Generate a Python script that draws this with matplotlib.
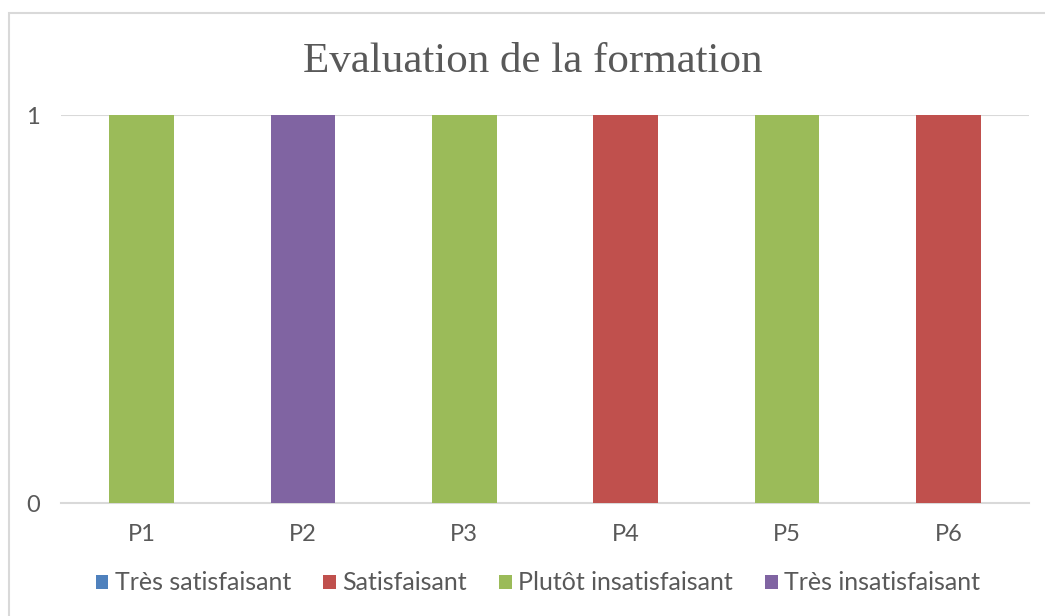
import matplotlib
matplotlib.use("Agg")
import matplotlib.pyplot as plt
import numpy as np
from matplotlib.patches import Rectangle

# donnees
participants = ["P1", "P2", "P3", "P4", "P5", "P6"]
series_names = ["Très satisfaisant", "Satisfaisant", "Plutôt insatisfaisant", "Très insatisfaisant"]
tres_satisfaisant = [0, 0, 0, 0, 0, 0]
satisfaisant = [0, 0, 0, 1, 0, 1]
plutot_insatisfaisant = [1, 0, 1, 0, 1, 0]
tres_insatisfaisant = [0, 1, 0, 0, 0, 0]
colors = ["#4f81bd", "#c0504d", "#9bbb59", "#8064a2"]

text_color = "#595959"
grid_color = "#d9d9d9"
plt.rcParams["font.family"] = ["Lato", "DejaVu Sans"]

fig = plt.figure(figsize=(10.45, 6.16), dpi=100)
ax = fig.add_axes([61 / 1045, (616 - 503) / 616, (1029 - 61) / 1045, (503 - 115) / 616])

# cadre du graphique (coupe a droite et en bas)
fig.patches.append(Rectangle((9 / 1045, -0.05), 1.1, (616 - 13) / 616 + 0.05,
                             transform=fig.transFigure, fill=False,
                             edgecolor=grid_color, linewidth=1.5))

x = np.arange(len(participants))
bottom = np.zeros(len(participants))
for name, vals, c in zip(series_names,
                         [tres_satisfaisant, satisfaisant, plutot_insatisfaisant, tres_insatisfaisant],
                         colors):
    ax.bar(x, vals, width=0.4, bottom=bottom, color=c, label=name, zorder=3)
    bottom += np.array(vals)

ax.set_xlim(-0.5, len(participants) - 0.5)
ax.set_ylim(0, 1)
ax.set_yticks([0, 1])
ax.set_xticks(x)
ax.set_xticklabels(participants)
ax.tick_params(length=0, colors=text_color, labelsize=17)
ax.tick_params(axis="x", pad=15)
ax.tick_params(axis="y", pad=15)
for s in ["top", "right", "left"]:
    ax.spines[s].set_visible(False)
ax.spines["bottom"].set_color(grid_color)
ax.spines["bottom"].set_linewidth(1.5)
ax.axhline(1, color=grid_color, linewidth=1.5, zorder=1)

fig.text(533 / 1045, 1 - 62 / 616, "Evaluation de la formation", ha="center", va="center",
         fontsize=31, color=text_color, family="Liberation Serif")

fig.legend(loc="center", bbox_to_anchor=(538 / 1045, 1 - 583 / 616), ncol=4, frameon=False,
           fontsize=18, labelcolor=text_color, handlelength=0.5, handleheight=0.5,
           handletextpad=0.25, columnspacing=1.3)

plt.savefig("out.png", dpi=100)
